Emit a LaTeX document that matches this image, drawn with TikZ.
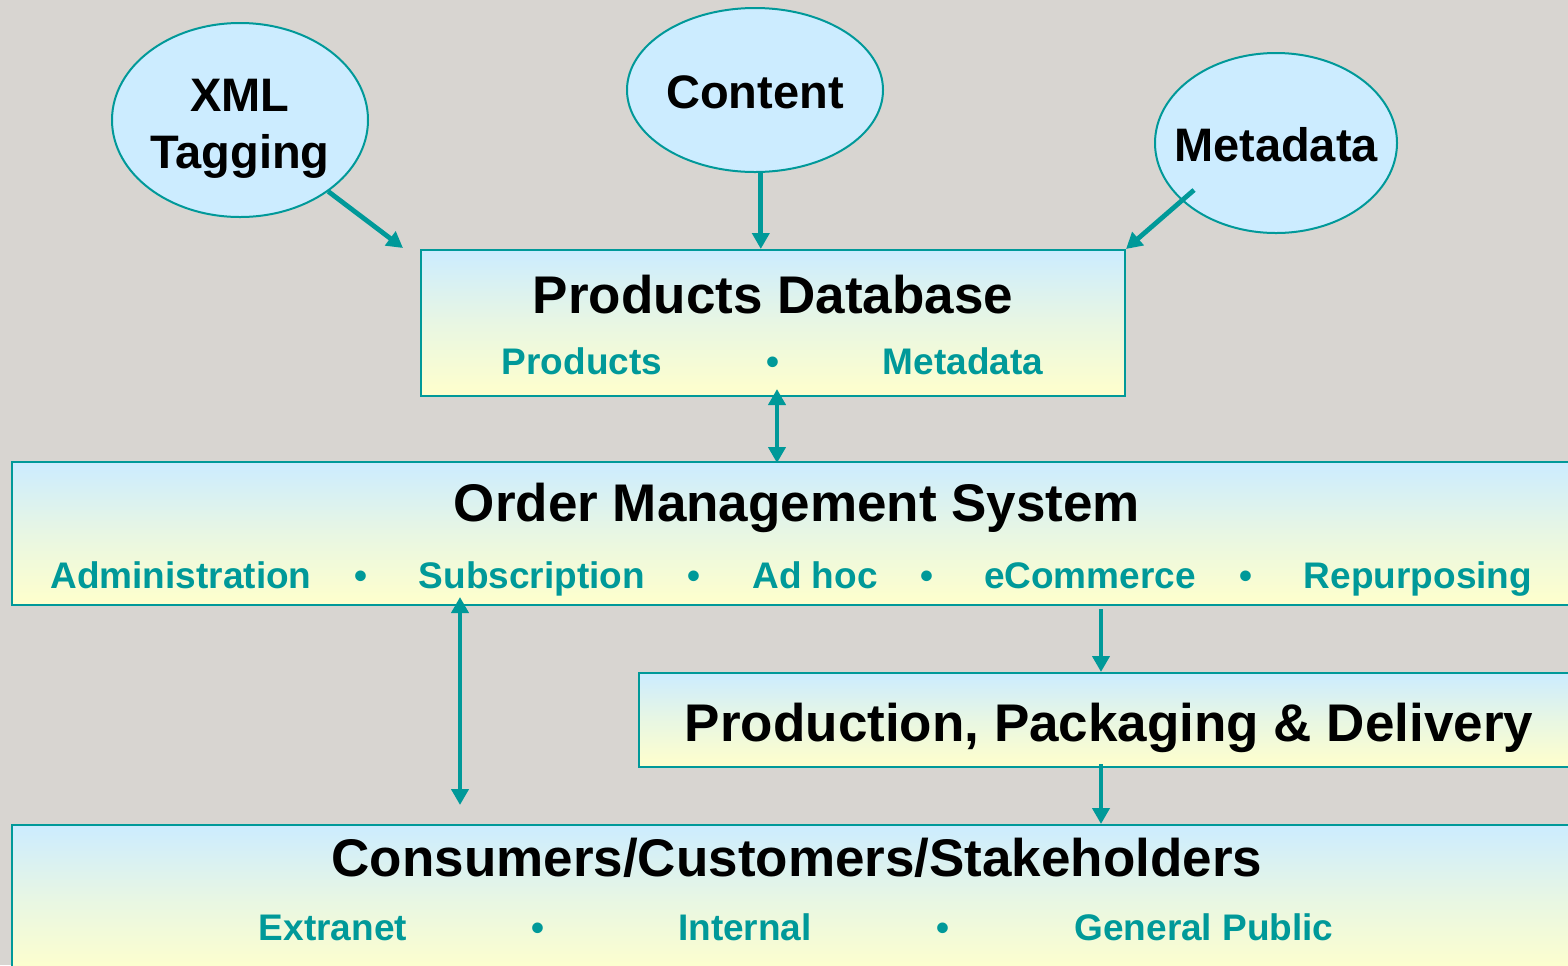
\documentclass[tikz,border=0pt]{standalone}
\usepackage{fontspec}
\setmainfont{Liberation Sans}
\usetikzlibrary{shapes.geometric,arrows.meta,calc}
\definecolor{teal1}{HTML}{009999}
\definecolor{lblue}{HTML}{CCECFF}
\definecolor{lyel}{HTML}{FFFFCC}
\definecolor{bgc}{HTML}{D8D5D1}
\tikzset{
  box/.style={draw=teal1, line width=1pt, top color=lblue, bottom color=lyel, middle color=lblue!45!lyel, inner sep=0pt},
  oval/.style={ellipse, draw=teal1, line width=1pt, fill=lblue, inner sep=0pt, align=center,
    font=\fontsize{23.5}{29}\selectfont\bfseries},
  ttl/.style={anchor=base, font=\fontsize{26.5}{30}\selectfont\bfseries, text=black, inner sep=0pt},
  otxt/.style={ttl, font=\fontsize{23.5}{29}\selectfont\bfseries},
  sub/.style={anchor=base, font=\fontsize{18.5}{22}\selectfont\bfseries, text=teal1, inner sep=0pt},
  conn/.style={draw=teal1, line width=2.4pt, -{Triangle[length=8pt,width=8.5pt]}},
  conn2/.style={draw=teal1, line width=2.4pt, {Triangle[length=8pt,width=8.5pt]}-{Triangle[length=8pt,width=8.5pt]}}
}
\begin{document}
\begin{tikzpicture}[x=0.5pt,y=-0.5pt]
\useasboundingbox (0,0) rectangle (1568,965);
\clip (0,0) rectangle (1568,965);
\fill[bgc] (0,0) rectangle (1568,965);

% ellipses
\node[oval, minimum width=128pt, minimum height=97pt] (xml) at (240,120) {};
\node[otxt] at (240,111) {XML};
\node[otxt] at (240,168) {Tagging};

\node[oval, minimum width=128pt, minimum height=82pt] (content) at (755,90) {};
\node[otxt] at (755,108) {Content};

\node[oval, minimum width=121pt, minimum height=90pt] (meta) at (1276,143) {};
\node[otxt] at (1276,161) {Metadata};

% boxes
\node[box, minimum width=352pt, minimum height=73pt] (pdb) at (773,323) {};
\node[ttl] at (773,313) {Products Database};
\node[sub] at (582,374) {Products};
\node[sub] at (773,374) {•};
\node[sub] at (963,374) {Metadata};

\node[box, minimum width=784pt, minimum height=71.5pt] (oms) at (796,533.5) {};
\node[ttl] at (797,521) {Order Management System};
\node[sub] at (181,588) {Administration};
\node[sub] at (361,588) {•};
\node[sub] at (532,588) {Subscription};
\node[sub] at (694,588) {•};
\node[sub] at (815,588) {Ad hoc};
\node[sub] at (927,588) {•};
\node[sub] at (1090,588) {eCommerce};
\node[sub] at (1246,588) {•};
\node[sub] at (1418,588) {Repurposing};

\node[box, minimum width=470.5pt, minimum height=47pt] (ppd) at (1109.5,720) {};
\node[ttl] at (1109,741) {Production, Packaging \& Delivery};

\node[box, minimum width=784pt, minimum height=75pt] (cons) at (796,900) {};
\node[ttl] at (797,876) {Consumers/Customers/Stakeholders};
\node[sub] at (333,940) {Extranet};
\node[sub] at (538,940) {•};
\node[sub] at (745,940) {Internal};
\node[sub] at (943,940) {•};
\node[sub] at (1204,940) {General Public};

% connectors
\coordinate (xmlend) at ($(pdb.north west)+(-17,-1)$);
\draw[conn] (xml.-39.5) -- (xmlend);
\draw[conn] (content.-86) -- (content.-86 |- pdb.north);
\coordinate (metastart) at (1194,190);
\draw[conn] (metastart) -- (pdb.north east);
\draw[conn2] ($(pdb.south -| 777,0)+(0,-8)$) -- ($(oms.north -| 777,0)+(0,2)$);
\coordinate (subtop) at (460,597);
\coordinate (subbot) at (460,805);
\draw[conn2] (subtop) -- (subbot);
\coordinate (omsout) at (1101,609);
\draw[conn] (omsout) -- (ppd.north -| omsout);
\draw[conn] ($(ppd.south -| omsout)+(0,-4)$) -- (cons.north -| omsout);
\end{tikzpicture}
\end{document}
